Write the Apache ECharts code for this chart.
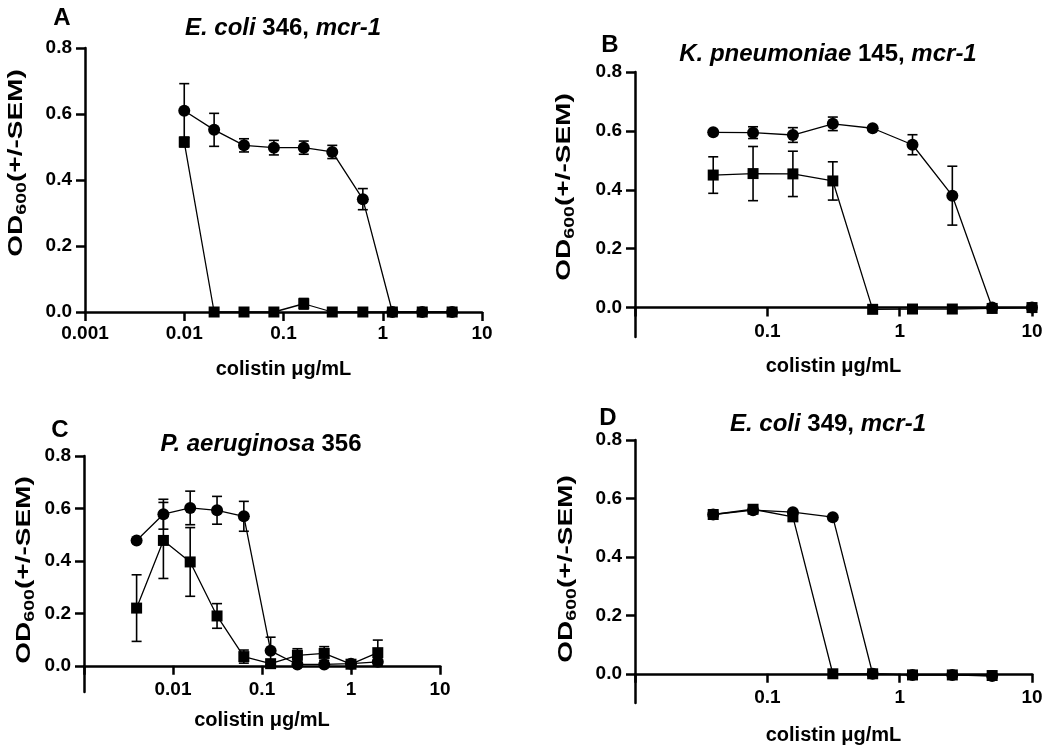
<!DOCTYPE html>
<html><head><meta charset="utf-8">
<script src="https://cdn.jsdelivr.net/npm/echarts@6/dist/echarts.min.js"></script>
<style>html,body{margin:0;padding:0;background:#fff}#c{width:1050px;height:749px}</style>
</head><body><div id="c"></div>
<script>
const FONT = '"Liberation Sans", Arial, Helvetica, sans-serif';

// ---------- Panel A: E. coli 346, mcr-1 ----------
const concA = [0.01, 0.02, 0.04, 0.08, 0.16, 0.31, 0.63, 1.25, 2.5, 5];
const circleA = [0.61, 0.552, 0.505, 0.498, 0.498, 0.485, 0.342, 0, 0, 0];
const circleSemA = [0.082, 0.05, 0.02, 0.022, 0.02, 0.02, 0.032, 0, 0, 0];
const squareA = [0.515, 0, 0, 0, 0.025, 0, 0, 0, 0, 0];
const squareSemA = [0.015, 0, 0, 0, 0.016, 0, 0, 0, 0, 0];

// ---------- Panel B: K. pneumoniae 145, mcr-1 ----------
const concB = [0.039, 0.078, 0.156, 0.3125, 0.625, 1.25, 2.5, 5, 10];
const circleB = [0.595, 0.594, 0.586, 0.624, 0.609, 0.553, 0.38, 0, 0];
const circleSemB = [0, 0.02, 0.025, 0.023, 0, 0.034, 0.1, 0, 0];
const squareB = [0.45, 0.455, 0.454, 0.43, -0.006, -0.005, -0.005, -0.003, 0];
const squareSemB = [0.062, 0.092, 0.077, 0.065, 0, 0, 0, 0, 0];

// ---------- Panel C: P. aeruginosa 356 ----------
const concC = [0.0039, 0.0078, 0.0156, 0.03125, 0.0625, 0.125, 0.25, 0.5, 1, 2];
const circleC = [0.478, 0.578, 0.602, 0.593, 0.57, 0.057, 0.005, 0.005, 0.008, 0.015];
const circleSemC = [0, 0.057, 0.064, 0.053, 0.057, 0.052, 0, 0, 0, 0];
const squareC = [0.22, 0.478, 0.396, 0.19, 0.035, 0.008, 0.04, 0.047, 0.006, 0.05];
const squareSemC = [0.127, 0.145, 0.131, 0.047, 0.025, 0.005, 0.025, 0.026, 0.008, 0.048];

// ---------- Panel D: E. coli 349, mcr-1 ----------
const concD = [0.039, 0.078, 0.156, 0.3125, 0.625, 1.25, 2.5, 5];
const circleD = [0.545, 0.56, 0.553, 0.536, 0, -0.004, -0.004, -0.008];
const circleSemD = [0, 0.01, 0, 0, 0, 0, 0, 0];
const squareD = [0.545, 0.563, 0.537, 0, 0, -0.004, -0.004, -0.006];
const squareSemD = [0, 0.01, 0, 0, 0, 0, 0, 0];

// ---------- axes / texts ----------
const yTicks = [0, 0.2, 0.4, 0.6, 0.8];
const yMaxVal = 0.8;
const panelLetters = ['A', 'B', 'C', 'D'];
const titleItalic1 = ['E. coli', 'K. pneumoniae', 'P. aeruginosa', 'E. coli'];
const titlePlain = ['346,', '145,', '356', '349,'];
const titleItalic2 = ['mcr-1', 'mcr-1', '', 'mcr-1'];
const xAxisName = 'colistin \u03bcg/mL';
const xMin = [0.001, 0.01, 0.001, 0.01];
const xMax = [10, 10, 10, 10];
const xFirstLabel = [0.001, 0.1, 0.01, 0.1];
const yMin = [0, -0.1, -0.1, -0.1];

const panels = [
  {conc: concA, c: circleA, cs: circleSemA, s: squareA, ss: squareSemA},
  {conc: concB, c: circleB, cs: circleSemB, s: squareB, ss: squareSemB},
  {conc: concC, c: circleC, cs: circleSemC, s: squareC, ss: squareSemC},
  {conc: concD, c: circleD, cs: circleSemD, s: squareD, ss: squareSemD}
];

// layout (pixels)
const grids = [
  {left: 85, top: 48, width: 397, height: 264},
  {left: 635, top: 72, width: 397, height: 265},
  {left: 84, top: 456, width: 356, height: 236},
  {left: 635, top: 440, width: 397, height: 263}
];
const xLabelMargin = [12, 15, 14, 14];
const xNameGap = [47, 49, 45, 52];
const letterPos = [[62, 18], [610, 45], [60, 430], [608, 418]];
const titlePos = [[283, 28], [828, 54], [261, 444], [828, 424]];
const yNamePos = [[16, 163], [564, 187], [24, 570], [566, 569]];

const black = '#000';
const xAxes = [], yAxes = [], series = [], graphics = [];

function fmtLog(v) { return String(+Number(v).toPrecision(3)); }

panels.forEach((p, i) => {
  // x axis sits where y = 0 (moved up from the grid bottom by the part of the y range below zero)
  const zeroOffset = -grids[i].height * (0 - yMin[i]) / (yMaxVal - yMin[i]);
  xAxes.push({
    type: 'log', logBase: 10, gridIndex: i, min: xMin[i], max: xMax[i],
    offset: zeroOffset,
    axisLine: {onZero: false, lineStyle: {color: black, width: 2.5}},
    axisTick: {length: 9, lineStyle: {color: black, width: 2.5}},
    minorTick: {show: false},
    splitLine: {show: false},
    axisLabel: {
      color: black, fontFamily: FONT, fontWeight: 'bold', fontSize: 19, margin: xLabelMargin[i],
      formatter: (v) => (v < xFirstLabel[i] * 0.999 ? '' : fmtLog(v))
    },
    name: xAxisName, nameLocation: 'middle', nameGap: xNameGap[i],
    nameTextStyle: {color: black, fontFamily: FONT, fontWeight: 'bold', fontSize: 20}
  });
  yAxes.push({
    type: 'value', gridIndex: i, min: yMin[i], max: yMaxVal, interval: 0.1,
    axisLine: {show: true, onZero: false, lineStyle: {color: black, width: 2.5}},
    axisTick: {show: true, length: 9, customValues: yTicks, lineStyle: {color: black, width: 2.5}},
    splitLine: {show: false},
    axisLabel: {
      color: black, fontFamily: FONT, fontWeight: 'bold', fontSize: 19, margin: 13,
      customValues: yTicks,
      formatter: (v) => Number(v).toFixed(1)
    }
  });
  const errData = [];
  p.conc.forEach((x, k) => {
    if (p.cs[k] > 0) errData.push([x, p.c[k], p.cs[k]]);
    if (p.ss[k] > 0) errData.push([x, p.s[k], p.ss[k]]);
  });
  series.push({
    type: 'custom', xAxisIndex: i, yAxisIndex: i, z: 2, clip: false,
    encode: {x: 0, y: 1},
    data: errData,
    renderItem: (params, api) => {
      const x = api.value(0), y = api.value(1), e = api.value(2);
      const top = api.coord([x, y + e]);
      const bot = api.coord([x, y - e]);
      const w = 5;
      const st = {stroke: black, lineWidth: 1.6, fill: null};
      return {type: 'group', children: [
        {type: 'line', shape: {x1: top[0], y1: top[1], x2: bot[0], y2: bot[1]}, style: st},
        {type: 'line', shape: {x1: top[0] - w, y1: top[1], x2: top[0] + w, y2: top[1]}, style: st},
        {type: 'line', shape: {x1: bot[0] - w, y1: bot[1], x2: bot[0] + w, y2: bot[1]}, style: st}
      ]};
    }
  });
  series.push({
    type: 'line', xAxisIndex: i, yAxisIndex: i, z: 3, clip: false,
    data: p.conc.map((x, k) => [x, p.c[k]]),
    symbol: 'circle', symbolSize: 12, showAllSymbol: true,
    itemStyle: {color: black}, lineStyle: {color: black, width: 1.3}
  });
  series.push({
    type: 'line', xAxisIndex: i, yAxisIndex: i, z: 4, clip: false,
    data: p.conc.map((x, k) => [x, p.s[k]]),
    symbol: 'rect', symbolSize: 11, showAllSymbol: true,
    itemStyle: {color: black}, lineStyle: {color: black, width: 1.3}
  });

  graphics.push({
    type: 'text', x: letterPos[i][0], y: letterPos[i][1],
    style: {text: panelLetters[i], font: 'bold 24px ' + FONT, fill: black, align: 'center', verticalAlign: 'middle'}
  });
  const tparts = ['{i|' + titleItalic1[i] + '}', '{b| ' + titlePlain[i] + '}'];
  if (titleItalic2[i]) tparts.push('{i| ' + titleItalic2[i] + '}');
  graphics.push({
    type: 'text', x: titlePos[i][0], y: titlePos[i][1],
    style: {
      text: tparts.join(''), fill: black, align: 'center', verticalAlign: 'middle',
      font: 'bold 24px ' + FONT,
      rich: {
        i: {fontFamily: FONT, fontWeight: 'bold', fontStyle: 'italic', fontSize: 24, fill: black},
        b: {fontFamily: FONT, fontWeight: 'bold', fontSize: 24, fill: black}
      }
    }
  });
  graphics.push({
    type: 'text', x: yNamePos[i][0], y: yNamePos[i][1], rotation: Math.PI / 2, scaleX: 1.4,
    style: {
      text: '{a|OD}{s|600}{a|(+/-SEM)}', fill: black, align: 'center', verticalAlign: 'middle',
      font: 'bold 20px ' + FONT,
      rich: {
        a: {fontFamily: FONT, fontWeight: 'bold', fontSize: 20, lineHeight: 26, verticalAlign: 'middle', fill: black},
        s: {fontFamily: FONT, fontWeight: 'bold', fontSize: 14, lineHeight: 14, verticalAlign: 'bottom', fill: black}
      }
    }
  });
});

grids.forEach(g => { g.outerBoundsMode = 'none'; g.containLabel = false; });

const chart = echarts.init(document.getElementById('c'), null, {renderer: 'canvas'});
chart.setOption({
  backgroundColor: '#fff',
  animation: false,
  grid: grids,
  xAxis: xAxes,
  yAxis: yAxes,
  series: series,
  graphic: graphics
});
</script>
</body></html>
